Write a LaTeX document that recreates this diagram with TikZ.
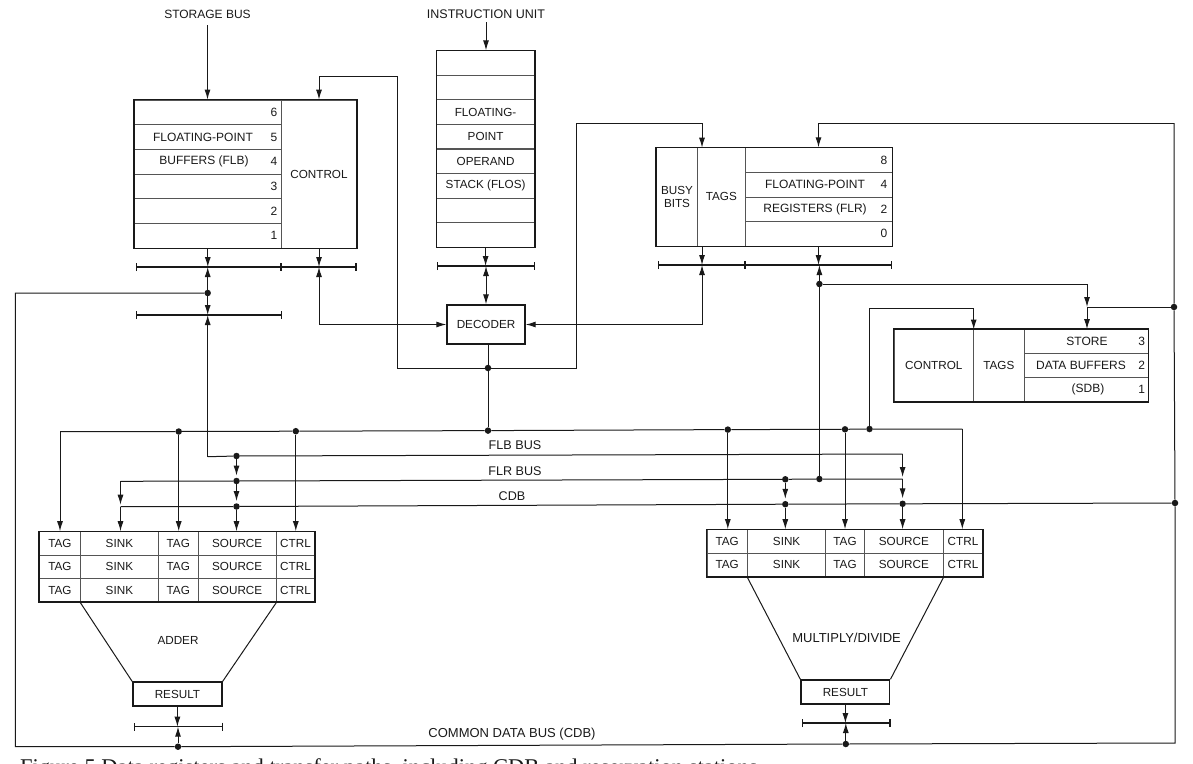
\documentclass[tikz,border=0pt]{standalone}
\usepackage{fontspec}
\setmainfont{Liberation Sans}
\newfontfamily\capfont{Liberation Serif}
\usepackage{tikz}
\usetikzlibrary{arrows.meta,positioning}
\usepackage{xcolor}
\definecolor{inkdark}{RGB}{25,25,25}
\definecolor{inkgrey}{RGB}{85,85,85}
\tikzstyle{cell} = [rectangle, draw=inkgrey, inner sep=0pt, text=inkdark, font=\fontsize{11.7}{13.5}\selectfont, line width=0.8pt]
\tikzstyle{lbl} = [inner sep=0pt, text=inkdark, font=\fontsize{12}{14}\selectfont]
\tikzstyle{outline} = [draw=inkdark, line width=1.4pt]
\tikzstyle{wire} = [draw=inkdark, line width=1pt]
\tikzstyle{arrow} = [wire,->,>={Latex[length=10pt,width=6pt]}]
\tikzstyle{biarrow} = [wire,<->,>={Latex[length=10pt,width=6pt]}]
\tikzstyle{busbar} = [draw=inkdark, line width=1.3pt, {Bar[width=8pt]}-{Bar[width=8pt]}]
\tikzstyle{junction} = [circle, fill=inkdark, inner sep=0pt, minimum size=6.5pt]

\begin{document}
\begin{tikzpicture}[x=1pt,y=-1pt]
\useasboundingbox (0,0) rectangle (1193,763);

% floating-point buffers
\node[cell, minimum width=147pt, minimum height=24.7pt] (flb6) at (207.8,112.3) {};
\node[cell, minimum width=147pt, minimum height=24.7pt] (flb5) at (207.8,137) {};
\node[cell, minimum width=147pt, minimum height=24.7pt] (flb4) at (207.8,161.7) {};
\node[cell, minimum width=147pt, minimum height=24.7pt] (flb3) at (207.8,186.3) {};
\node[cell, minimum width=147pt, minimum height=24.7pt] (flb2) at (207.8,211) {};
\node[cell, minimum width=147pt, minimum height=24.7pt] (flb1) at (207.8,235.7) {};
\node[cell, minimum width=75.4pt, minimum height=148pt] (flbctl) at (319,174) {CONTROL};
\draw[outline] (flb6.north west) rectangle (flbctl.south east);
\node[lbl] (flbtxt1) at (203,137) {FLOATING-POINT};
\node[lbl] (flbtxt2) at (204,161.7) {BUFFERS (FLB)};
\node[lbl] (flbn6) at (274,112.3) {6};
\node[lbl] (flbn5) at (274,137) {5};
\node[lbl] (flbn4) at (274,161.7) {4};
\node[lbl] (flbn3) at (274,186.3) {3};
\node[lbl] (flbn2) at (274,211) {2};
\node[lbl] (flbn1) at (274,235.7) {1};

% operand stack
\node[cell, minimum width=98pt, minimum height=24.55pt] (flos1) at (485.6,63) {};
\node[cell, minimum width=98pt, minimum height=24.55pt] (flos2) at (485.6,87.5) {};
\node[cell, minimum width=98pt, minimum height=24.55pt] (flos3) at (485.6,112.1) {FLOATING-};
\node[cell, minimum width=98pt, minimum height=24.55pt] (flos4) at (485.6,136.6) {POINT};
\node[cell, minimum width=98pt, minimum height=24.55pt] (flos5) at (485.6,161.2) {OPERAND};
\node[cell, minimum width=98pt, minimum height=24.55pt] (flos6) at (485.6,185.7) {STACK (FLOS)};
\node[cell, minimum width=98pt, minimum height=24.55pt] (flos7) at (485.6,210.3) {};
\node[cell, minimum width=98pt, minimum height=24.55pt] (flos8) at (485.6,234.8) {};
\draw[outline] (flos1.north west) rectangle (flos8.south east);

% floating-point registers
\node[cell, align=center, minimum width=41pt, minimum height=98.3pt] (busy) at (677,196.9) {BUSY\\[-1pt]BITS};
\node[cell, minimum width=47.4pt, minimum height=98.3pt] (flrtags) at (721.3,196.9) {TAGS};
\node[cell, minimum width=147pt, minimum height=24.6pt] (flr8) at (818.5,160) {};
\node[cell, minimum width=147pt, minimum height=24.6pt] (flr4) at (818.5,184.6) {};
\node[cell, minimum width=147pt, minimum height=24.6pt] (flr2) at (818.5,209.2) {};
\node[cell, minimum width=147pt, minimum height=24.6pt] (flr0) at (818.5,233.8) {};
\draw[outline] (busy.north west) rectangle (flr0.south east);
\node[lbl] (flrtxt1) at (815,184.6) {FLOATING-POINT};
\node[lbl] (flrtxt2) at (815,209.2) {REGISTERS (FLR)};
\node[lbl] (flrn8) at (884,160) {8};
\node[lbl] (flrn4) at (884,184.6) {4};
\node[lbl] (flrn2) at (884,209.2) {2};
\node[lbl] (flrn0) at (884,233.8) {0};

% store data buffers
\node[cell, minimum width=79.7pt, minimum height=72pt] (sdbctl) at (933.8,365.5) {CONTROL};
\node[cell, minimum width=50.3pt, minimum height=72pt] (sdbtags) at (998.8,365.5) {TAGS};
\node[cell, minimum width=124pt, minimum height=24pt] (sdb3) at (1086,341.5) {};
\node[cell, minimum width=124pt, minimum height=24pt] (sdb2) at (1086,365.5) {};
\node[cell, minimum width=124pt, minimum height=24pt] (sdb1) at (1086,389.5) {};
\draw[outline] (sdbctl.north west) rectangle (sdb1.south east);
\node[lbl] (sdbtxt1) at (1087,341.5) {STORE};
\node[lbl] (sdbtxt2) at (1081,365.5) {DATA BUFFERS};
\node[lbl] (sdbtxt3) at (1088,389.5) {(SDB)};
\node[lbl] (sdbn3) at (1141.6,341.5) {3};
\node[lbl] (sdbn2) at (1141.6,365.5) {2};
\node[lbl] (sdbn1) at (1141.6,389.5) {1};

% decoder and outside labels
\node[cell, draw=inkdark, line width=1.4pt, minimum width=78pt, minimum height=39pt] (decoder) at (486,324.5) {DECODER};
\node[lbl] (storbus) at (207.5,14) {STORAGE BUS};
\node[lbl, font=\fontsize{12.5}{14}\selectfont] (instunit) at (486,14) {INSTRUCTION UNIT};
\node[lbl, font=\fontsize{12.6}{14}\selectfont] (flblabel) at (515,445) {FLB BUS};
\node[lbl, font=\fontsize{12.6}{14}\selectfont] (flrlabel) at (515,471) {FLR BUS};
\node[lbl, font=\fontsize{12.6}{14}\selectfont] (cdblabel) at (512,496) {CDB};
\node[lbl, font=\fontsize{13}{14}\selectfont] (cdbname) at (512,734) {COMMON DATA BUS (CDB)};

% adder stations
\node[cell, minimum width=41pt, minimum height=23.4pt] (atag1) at (59.9,543.3) {TAG};
\node[cell, minimum width=78pt, minimum height=23.4pt] (asink1) at (119.4,543.3) {SINK};
\node[cell, minimum width=39.8pt, minimum height=23.4pt] (atagb1) at (178.3,543.3) {TAG};
\node[cell, minimum width=78.1pt, minimum height=23.4pt] (asrc1) at (237.2,543.3) {SOURCE};
\node[cell, minimum width=38.3pt, minimum height=23.4pt] (actl1) at (295.5,543.3) {CTRL};
\node[cell, minimum width=41pt, minimum height=23.4pt] (atag2) at (59.9,566.7) {TAG};
\node[cell, minimum width=78pt, minimum height=23.4pt] (asink2) at (119.4,566.7) {SINK};
\node[cell, minimum width=39.8pt, minimum height=23.4pt] (atagb2) at (178.3,566.7) {TAG};
\node[cell, minimum width=78.1pt, minimum height=23.4pt] (asrc2) at (237.2,566.7) {SOURCE};
\node[cell, minimum width=38.3pt, minimum height=23.4pt] (actl2) at (295.5,566.7) {CTRL};
\node[cell, minimum width=41pt, minimum height=23.4pt] (atag3) at (59.9,590) {TAG};
\node[cell, minimum width=78pt, minimum height=23.4pt] (asink3) at (119.4,590) {SINK};
\node[cell, minimum width=39.8pt, minimum height=23.4pt] (atagb3) at (178.3,590) {TAG};
\node[cell, minimum width=78.1pt, minimum height=23.4pt] (asrc3) at (237.2,590) {SOURCE};
\node[cell, minimum width=38.3pt, minimum height=23.4pt] (actl3) at (295.5,590) {CTRL};
\draw[outline] (atag1.north west) rectangle (actl3.south east);
\node[cell, draw=inkdark, line width=1.4pt, minimum width=89.2pt, minimum height=24pt] (ares) at (177.4,694) {RESULT};
\draw[wire] (asink3.south west) -- (ares.north west);
\draw[wire] (asrc3.south east) -- (ares.north east);
\node[lbl, font=\fontsize{11.7}{13.5}\selectfont] (adder) at (178,640.7) {ADDER};

% multiply/divide stations
\node[cell, minimum width=40.5pt, minimum height=23.4pt] (mtag1) at (727.2,541.3) {TAG};
\node[cell, minimum width=78.3pt, minimum height=23.4pt] (msink1) at (786.6,541.3) {SINK};
\node[cell, minimum width=38.6pt, minimum height=23.4pt] (mtagb1) at (845,541.3) {TAG};
\node[cell, minimum width=79pt, minimum height=23.4pt] (msrc1) at (903.9,541.3) {SOURCE};
\node[cell, minimum width=39.4pt, minimum height=23.4pt] (mctl1) at (963,541.3) {CTRL};
\node[cell, minimum width=40.5pt, minimum height=23.4pt] (mtag2) at (727.2,564.7) {TAG};
\node[cell, minimum width=78.3pt, minimum height=23.4pt] (msink2) at (786.6,564.7) {SINK};
\node[cell, minimum width=38.6pt, minimum height=23.4pt] (mtagb2) at (845,564.7) {TAG};
\node[cell, minimum width=79pt, minimum height=23.4pt] (msrc2) at (903.9,564.7) {SOURCE};
\node[cell, minimum width=39.4pt, minimum height=23.4pt] (mctl2) at (963,564.7) {CTRL};
\draw[outline] (mtag1.north west) rectangle (mctl2.south east);
\node[cell, draw=inkdark, line width=1.4pt, minimum width=88.7pt, minimum height=24pt] (mres) at (845.4,692) {RESULT};
\draw[wire] (msink2.south west) -- (mres.north west);
\draw[wire] (msrc2.south east) -- (mres.north east);
\node[lbl, font=\fontsize{13}{14}\selectfont] (muldiv) at (846.6,638) {MULTIPLY/DIVIDE};

% junctions
\node[junction] (flbfork) at (207.7,293) {};
\node[junction] (decfork) at (488,368) {};
\node[junction] (flrfork) at (819.4,284) {};
\node[junction] (sdbfork) at (1174,307) {};
\node[junction] (topa) at (178.7,431.5) {};
\node[junction] (topb) at (295.8,431.2) {};
\node[junction] (topc) at (488,430.6) {};
\node[junction] (topd) at (727.8,429.6) {};
\node[junction] (tope) at (845,429.3) {};
\node[junction] (topf) at (869.5,429) {};
\node[junction] (flba) at (236.5,456) {};
\node[junction] (flra) at (236.5,481) {};
\node[junction] (flrb) at (819.4,479) {};
\node[junction] (flrc) at (785.3,479.3) {};
\node[junction] (cdba) at (236.5,506.5) {};
\node[junction] (cdbb) at (785.3,504.2) {};
\node[junction] (cdbc) at (902.6,503.8) {};
\node[junction] (cdbd) at (1175,503) {};
\node[junction] (cdbl) at (178,746.7) {};
\node[junction] (cdbr) at (845.8,744) {};

% corners of the bus lines
\coordinate (flbcorner) at (207.7,456.7);
\coordinate (flbend) at (902.6,454);
\coordinate (flrstart) at (120.5,481.3);
\coordinate (flrend) at (902.6,479);
\coordinate (cdbstart) at (120.5,506.7);
\coordinate (topstart) at (60,431.7);
\coordinate (topend) at (962.3,429);
\coordinate (leftup) at (15.3,293);
\coordinate (leftdown) at (15.3,746.7);
\coordinate (rightup) at (1174,123);
\coordinate (rightdown) at (1175,743);
\coordinate (ctrlup) at (397,76);
\coordinate (busyup) at (576,123);
\coordinate (busyin) at (702,147.7);
\coordinate (sdbjoin) at (1087,307);
\coordinate (sdbtagup) at (869.5,308);
\coordinate (sdbtagin) at (973.7,329.5);

% short buses under the boxes
\coordinate (flbbarl) at (135.5,267);
\coordinate (flbbarm) at (281,267);
\coordinate (flbbarr) at (356.7,267);
\coordinate (lowbarl) at (135.5,315);
\coordinate (lowbarr) at (282,315);
\coordinate (flosbarl) at (437,266);
\coordinate (flosbarr) at (535,266);
\coordinate (flrbarl) at (658,265);
\coordinate (flrbarm) at (745,265);
\coordinate (flrbarr) at (892,265);
\coordinate (abarl) at (133.6,726.7);
\coordinate (abarr) at (223,726.7);
\coordinate (mbarl) at (802,723);
\coordinate (mbarr) at (890.5,723);
\draw[busbar] (flbbarl) -- (flbbarm);
\draw[busbar] (flbbarm) -- (flbbarr);
\draw[busbar] (lowbarl) -- (lowbarr);
\draw[busbar] (flosbarl) -- (flosbarr);
\draw[busbar] (flrbarl) -- (flrbarm);
\draw[busbar] (flrbarm) -- (flrbarr);
\draw[busbar] (abarl) -- (abarr);
\draw[busbar] (mbarl) -- (mbarr);

% top of the figure
\draw[arrow] (storbus.south |- 0,25) -- (storbus.south |- flb6.north);
\draw[arrow] (instunit.south |- 0,22) -- (instunit.south |- flos1.north);
\draw[arrow] (flb1) -- (flb1 |- flbbarl);
\draw[arrow] (flbctl) -- (flbctl |- flbbarl);
\draw[arrow] (flos8) -- (flos8 |- flosbarl);
\draw[arrow] (flr0) -- (flr0 |- flrbarl);
\draw[arrow] (busyin |- busy.south) -- (busyin |- flrbarl);
\draw[arrow] (flbfork) -- (flbfork |- flbbarl);
\draw[arrow] (flbfork) -- (flbfork |- lowbarl);
\draw[arrow] (flbcorner) -- (flbfork |- lowbarl);
\draw[arrow] (flrfork) -- (flrfork |- flrbarl);

% decoder connections
\draw[biarrow] (decoder.north) -- (decoder.north |- flosbarl);
\draw[biarrow] (flbctl |- flbbarl) |- (decoder.west);
\draw[biarrow] (decoder.east) -| (busyin |- flrbarl);
\draw[wire] (decfork |- decoder.south) -- (decfork) -- (topc);
\draw[arrow] (decfork) -| (ctrlup) -| (flbctl.north);
\draw[arrow] (decfork) -| (busyup) -| (busyin);

% common data bus loop
\draw[wire] (flbfork) -- (leftup) -- (leftdown) -- (cdbl) -- (cdbr) -- (rightdown) -- (cdbd) -- (sdbfork) -- (rightup);
\draw[arrow] (rightup) -| (flr8.north);
\draw[wire] (flrfork) -- (flrb);
\draw[arrow] (flrfork) -| (sdbjoin);
\draw[wire] (sdbfork) -- (sdbjoin);
\draw[arrow] (sdbjoin) -- (sdbjoin |- sdb3.north);
\draw[arrow] (topf) -- (sdbtagup) -| (sdbtagin);
\draw[arrow] (ares) -- (ares |- abarl);
\draw[arrow] (cdbl) -- (cdbl |- abarl);
\draw[arrow] (mres) -- (mres |- mbarl);
\draw[arrow] (cdbr) -- (cdbr |- mbarl);

% horizontal buses
\draw[wire] (topstart) -- (topa) -- (topb) -- (topc) -- (topd) -- (tope) -- (topf) -- (topend);
\draw[wire] (flbcorner) -- (flba) -- (flbend);
\draw[wire] (flrstart) -- (flra) -- (flrc) -- (flrb) -- (flrend);
\draw[wire] (cdbstart) -- (cdba) -- (cdbb) -- (cdbc) -- (cdbd);

% feeds into the stations
\draw[arrow] (topstart) -- (topstart |- atag1.north);
\draw[arrow] (topa) -- (topa |- atag1.north);
\draw[arrow] (topb) -- (topb |- atag1.north);
\draw[arrow, shorten >=2pt] (flba) -- (flra);
\draw[arrow, shorten >=2pt] (flra) -- (cdba);
\draw[arrow] (cdba) -- (cdba |- atag1.north);
\draw[arrow, shorten >=2pt] (flrstart) -- (cdbstart);
\draw[arrow] (cdbstart) -- (cdbstart |- atag1.north);
\draw[arrow] (topd) -- (topd |- mtag1.north);
\draw[arrow] (tope) -- (tope |- mtag1.north);
\draw[arrow] (topend) -- (topend |- mtag1.north);
\draw[arrow, shorten >=2pt] (flrc) -- (cdbb);
\draw[arrow] (cdbb) -- (cdbb |- mtag1.north);
\draw[arrow, shorten >=2pt] (flbend) -- (flrend);
\draw[arrow, shorten >=2pt] (flrend) -- (cdbc);
\draw[arrow] (cdbc) -- (cdbc |- mtag1.north);

% caption line running off the page
\node[anchor=north west, inner sep=0pt, text=inkdark, font=\capfont\fontsize{22.5}{24}\selectfont] (caption) at (20,758) {Figure 5 Data registers and transfer paths, including CDB and reservation stations};
\end{tikzpicture}
\end{document}
